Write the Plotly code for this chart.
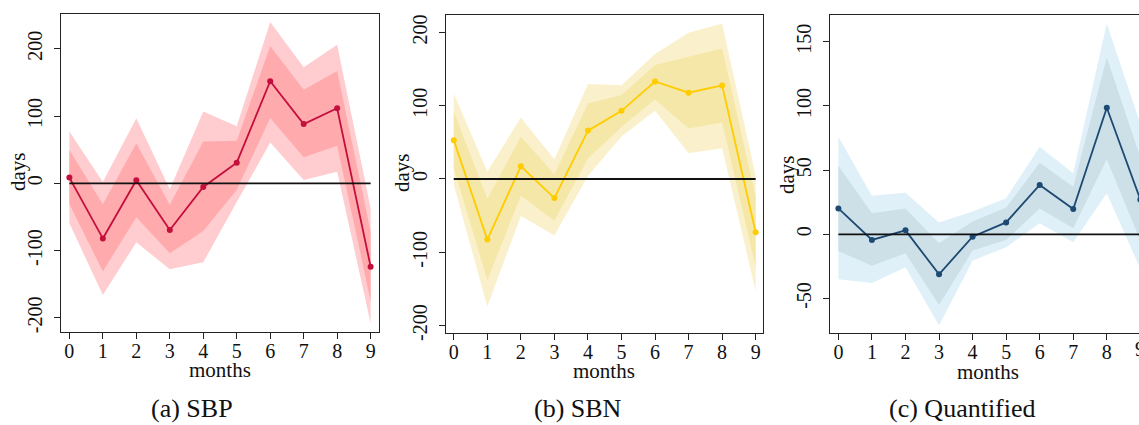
import plotly.graph_objects as go

months = [0, 1, 2, 3, 4, 5, 6, 7, 8, 9]
zero_line = [0, 0, 0, 0, 0, 0, 0, 0, 0, 0]

# (a) SBP
sbp_mean = [8.5, -82, 4.5, -69.5, -5.5, 30.7, 151.7, 88, 111.5, -124]
sbp_in_hi = [49.5, -31, 59.5, -32, 62, 63.4, 204, 139, 167, -72]
sbp_in_lo = [-31, -131, -50.5, -104, -71, -10, 97, 38.7, 56, -175]
sbp_out_hi = [77, 2, 96.7, -9, 106.6, 85, 240, 172.5, 206, -37]
sbp_out_lo = [-59.5, -166, -87.7, -128, -117.5, -28, 60.5, 5, 17, -208]

# (b) SBN
sbn_mean = [53, -82.7, 17.3, -26, 66, 93, 133, 117.7, 127.7, -72.7]
sbn_in_hi = [92, -27, 57.7, 6.4, 103, 114.5, 155.5, 167, 178, -24]
sbn_in_lo = [15, -138, -23, -57, 28, 71, 108.6, 69, 77, -120]
sbn_out_hi = [117, 10, 84, 27, 129.5, 128, 170.5, 199.5, 212, 4.5]
sbn_out_lo = [-8, -174, -50.5, -77, 4, 58, 93, 35, 42, -153]

# (c) Quantified
q_mean = [20.2, -4.4, 3.1, -31.2, -1.8, 9.3, 38.4, 19.7, 98.6, 27]
q_in_hi = [53.5, 16.4, 20.2, -7, 10, 20.8, 55.8, 37, 137.8, 60]
q_in_lo = [-13, -24.4, -14.8, -55, -12.7, -4.4, 20.2, 4.7, 58.4, -5]
q_out_hi = [76, 30, 32.4, 9.3, 17.7, 28, 68.3, 47.5, 164.3, 86]
q_out_lo = [-35, -38, -25.7, -71, -20.5, -10, 8.6, -6.2, 32, -27]

captions = ["(a) SBP", "(b) SBN", "(c) Quantified"]
yticks_ab = [-200, -100, 0, 100, 200]
yticks_c = [-50, 0, 50, 100, 150]

FONT = "Liberation Serif"
W, H = 1139, 425

panels = [
    dict(mean=sbp_mean, ih=sbp_in_hi, il=sbp_in_lo, oh=sbp_out_hi, ol=sbp_out_lo,
         line="#c40e3c", inner="#ffabad", outer="#ffcdcf",
         xdom=(61, 379), ytop=13.5, ybot=331.7, xr=[-0.25, 9.25], yr=[-220.7, 252.5],
         yt=yticks_ab, mirror_y=True, cap=(192, 408), days=(18, 172), months=(220, 370)),
    dict(mean=sbn_mean, ih=sbn_in_hi, il=sbn_in_lo, oh=sbn_out_hi, ol=sbn_out_lo,
         line="#ffcc00", inner="#f5e7a8", outer="#faf1cc",
         xdom=(445.7, 762.7), ytop=15.3, ybot=333.3, xr=[-0.24, 9.21], yr=[-210.5, 223.3],
         yt=yticks_ab, mirror_y=True, cap=(578, 408), days=(402, 173), months=(604, 371)),
    dict(mean=q_mean, ih=q_in_hi, il=q_in_lo, oh=q_out_hi, ol=q_out_lo,
         line="#1d4a72", inner="#cddfe7", outer="#dff0f9",
         xdom=(830, 1139), ytop=15.3, ybot=333.3, xr=[-0.25, 8.96], yr=[-77.1, 170.6],
         yt=yticks_c, mirror_y=False, cap=(963, 408), days=(787, 175), months=(988, 372)),
]

fig = go.Figure()
annotations = []
for i, p in enumerate(panels, start=1):
    xa = "x" if i == 1 else f"x{i}"
    ya = "y" if i == 1 else f"y{i}"
    fig.add_trace(go.Scatter(x=months + months[::-1], y=p["oh"] + p["ol"][::-1],
                             fill="toself", fillcolor=p["outer"], line=dict(width=0),
                             mode="lines", hoverinfo="skip", showlegend=False,
                             xaxis=xa, yaxis=ya))
    fig.add_trace(go.Scatter(x=months + months[::-1], y=p["ih"] + p["il"][::-1],
                             fill="toself", fillcolor=p["inner"], line=dict(width=0),
                             mode="lines", hoverinfo="skip", showlegend=False,
                             xaxis=xa, yaxis=ya))
    fig.add_trace(go.Scatter(x=months, y=p["mean"], mode="lines+markers",
                             line=dict(color=p["line"], width=1.8),
                             marker=dict(color=p["line"], size=6),
                             showlegend=False, xaxis=xa, yaxis=ya))
    fig.add_trace(go.Scatter(x=months, y=zero_line, mode="lines",
                             line=dict(color="#111111", width=1.8),
                             showlegend=False, xaxis=xa, yaxis=ya))

    xd = [p["xdom"][0] / W, min(1.0, p["xdom"][1] / W)]
    yd = [1 - p["ybot"] / H, 1 - p["ytop"] / H]
    axkey_x = "xaxis" if i == 1 else f"xaxis{i}"
    axkey_y = "yaxis" if i == 1 else f"yaxis{i}"
    fig.update_layout(**{
        axkey_x: dict(domain=xd, range=p["xr"], anchor=ya, tickvals=months,
                      ticks="outside", ticklen=6, tickwidth=1, tickcolor="#222",
                      showline=True, linecolor="#222", linewidth=1.3, mirror=True,
                      showgrid=False, zeroline=False, automargin=False,
                      ticklabelstandoff=-5,
                      tickfont=dict(family=FONT, size=20, color="#111")),
        axkey_y: dict(domain=yd, range=p["yr"], anchor=xa, tickvals=p["yt"],
                      ticktext=[str(v) for v in p["yt"]], tickangle=-90,
                      ticks="outside", ticklen=6, tickwidth=1, tickcolor="#222",
                      showline=True, linecolor="#222", linewidth=1.3,
                      mirror=p["mirror_y"], showgrid=False, zeroline=False,
                      ticklabelstandoff=4, automargin=False,
                      tickfont=dict(family=FONT, size=20, color="#111")),
    })
    annotations.append(dict(text=captions[i - 1], x=p["cap"][0] / W, y=1 - p["cap"][1] / H,
                            xref="paper", yref="paper", showarrow=False,
                            xanchor="center", yanchor="middle",
                            font=dict(family=FONT, size=26, color="#111")))
    annotations.append(dict(text="days", x=p["days"][0] / W, y=1 - p["days"][1] / H,
                            xref="paper", yref="paper", showarrow=False, textangle=-90,
                            xanchor="center", yanchor="middle",
                            font=dict(family=FONT, size=21, color="#111")))
    annotations.append(dict(text="months", x=p["months"][0] / W, y=1 - p["months"][1] / H,
                            xref="paper", yref="paper", showarrow=False,
                            xanchor="center", yanchor="middle",
                            font=dict(family=FONT, size=21, color="#111")))

# partially visible last tick label of panel (c), cut by the figure edge
annotations.append(dict(text=str(months[-1]), x=1140.3 / W, y=1 - 349 / H,
                        xref="paper", yref="paper", showarrow=False,
                        xanchor="center", yanchor="middle",
                        font=dict(family=FONT, size=20, color="#111")))

fig.update_layout(width=W, height=H, margin=dict(l=0, r=0, t=0, b=0, autoexpand=False),
                  paper_bgcolor="white", plot_bgcolor="white",
                  annotations=annotations, showlegend=False)
fig.write_html("out.html")
